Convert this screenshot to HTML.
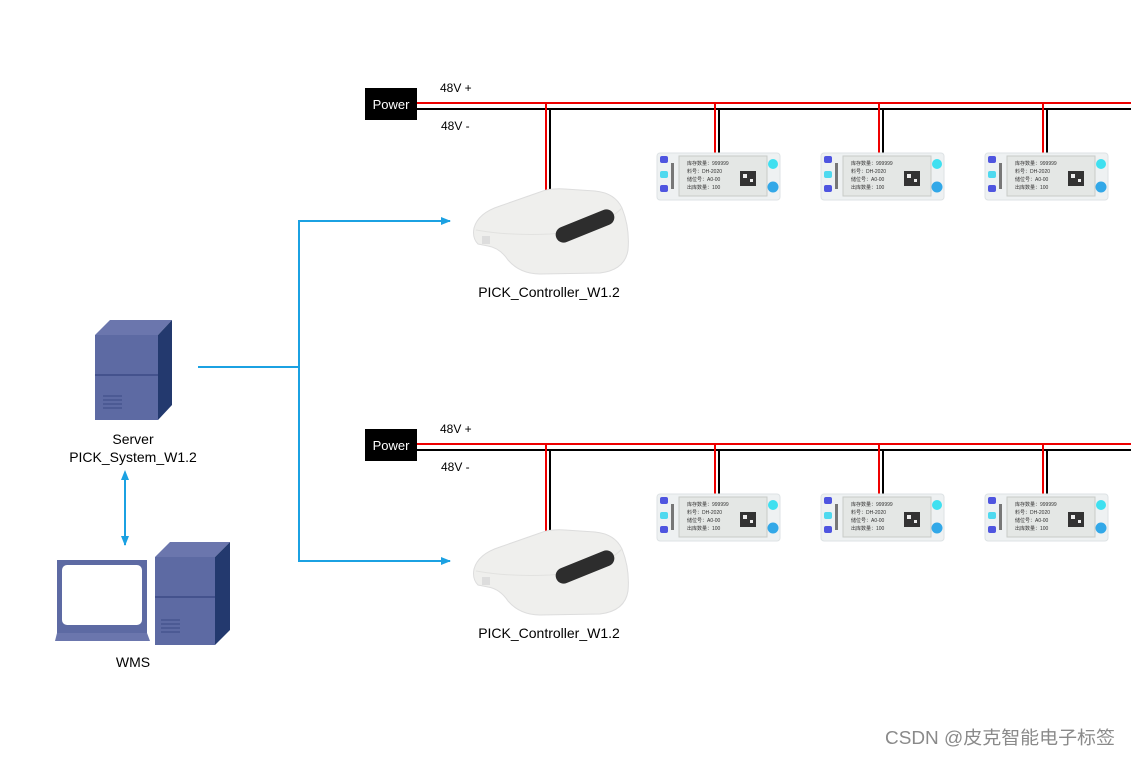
<!DOCTYPE html>
<html><head><meta charset="utf-8"><style>
body{margin:0;background:#fff;}
text{font-family:"Liberation Sans","Noto Sans CJK SC",sans-serif;}
</style></head><body>
<svg width="1131" height="756" viewBox="0 0 1131 756" xmlns="http://www.w3.org/2000/svg">
<defs>
<marker id="ah" markerWidth="10" markerHeight="10" refX="9" refY="5" orient="auto" markerUnits="userSpaceOnUse"><path d="M0,1 L10,5 L0,9 Z" fill="#1ba1e2"/></marker>
<marker id="ahs" markerWidth="10" markerHeight="10" refX="1" refY="5" orient="auto-start-reverse" markerUnits="userSpaceOnUse"><path d="M0,1 L10,5 L0,9 Z" fill="#1ba1e2"/></marker>
<g id="label">
<rect x="0" y="0" width="123" height="47" rx="3" fill="#eef1f2" stroke="#dde2e4"/>
<rect x="3" y="3" width="8" height="7" rx="2" fill="#4f55e0"/>
<rect x="3" y="18" width="8" height="7" rx="2" fill="#4fd9ef"/>
<rect x="3" y="32" width="8" height="7" rx="2" fill="#4f55e0"/>
<rect x="14" y="10" width="3" height="26" fill="#777"/>
<rect x="22" y="3" width="88" height="40" fill="#e4e7e5" stroke="#c8cbc8"/>
<text x="30" y="12" font-size="5" fill="#333">库存数量：999999</text>
<text x="30" y="20" font-size="5" fill="#333">料号：DH-2020</text>
<text x="30" y="28" font-size="5" fill="#333">储位号：A0-00</text>
<text x="30" y="36" font-size="5" fill="#333">出库数量：100</text>
<rect x="83" y="18" width="16" height="15" fill="#333"/>
<rect x="86" y="21" width="4" height="4" fill="#eee"/><rect x="93" y="26" width="3" height="3" fill="#eee"/>
<circle cx="116" cy="11" r="5" fill="#3fe0f0"/>
<circle cx="116" cy="34" r="5.5" fill="#32a8e8"/>
</g>
<g id="ctrl">
<path d="M4,40 Q8,25 30,18 L70,4 Q80,0 95,1 L125,3 Q145,5 152,20 Q160,40 158,62 Q155,82 130,85 L70,86 Q50,86 38,72 Q30,60 18,58 L8,56 Q2,50 4,40 Z" fill="#efefed" stroke="#ddd"/>
<path d="M6,42 Q40,48 80,46 Q130,42 152,20" fill="none" stroke="#e2e2e0"/>
<rect x="84" y="30" width="62" height="16" rx="8" transform="rotate(-22 115 38)" fill="#2d2d2d"/>
<rect x="12" y="48" width="8" height="8" fill="#ddd"/>
</g>
<g id="pwr">
<rect x="365" y="0" width="52" height="32" fill="#000"/>
<text x="391" y="21" font-size="13" fill="#fff" text-anchor="middle">Power</text>
<text x="440" y="4" font-size="12" fill="#000">48V +</text>
<text x="441" y="42" font-size="12" fill="#000">48V -</text>
<line x1="417" y1="15" x2="1131" y2="15" stroke="#e00" stroke-width="2"/>
<line x1="417" y1="21" x2="1131" y2="21" stroke="#000" stroke-width="2"/>
<line x1="546" y1="15" x2="546" y2="102" stroke="#e00" stroke-width="2"/>
<line x1="550" y1="21" x2="550" y2="102" stroke="#000" stroke-width="2"/>
<line x1="715" y1="15" x2="715" y2="65" stroke="#e00" stroke-width="2"/>
<line x1="719" y1="21" x2="719" y2="65" stroke="#000" stroke-width="2"/>
<line x1="879" y1="15" x2="879" y2="65" stroke="#e00" stroke-width="2"/>
<line x1="883" y1="21" x2="883" y2="65" stroke="#000" stroke-width="2"/>
<line x1="1043" y1="15" x2="1043" y2="65" stroke="#e00" stroke-width="2"/>
<line x1="1047" y1="21" x2="1047" y2="65" stroke="#000" stroke-width="2"/>
<use href="#label" x="657" y="65"/>
<use href="#label" x="821" y="65"/>
<use href="#label" x="985" y="65"/>
<use href="#ctrl" x="470" y="100"/>
<text x="549" y="209" font-size="14" fill="#000" text-anchor="middle">PICK_Controller_W1.2</text>
</g>
</defs>
<use href="#pwr" x="0" y="88"/>
<use href="#pwr" x="0" y="429"/>
<polyline points="198,367 299,367 299,221 450,221" fill="none" stroke="#1ba1e2" stroke-width="2" marker-end="url(#ah)"/>
<polyline points="299,367 299,561 450,561" fill="none" stroke="#1ba1e2" stroke-width="2" marker-end="url(#ah)"/>
<line x1="125" y1="479" x2="125" y2="545" stroke="#1ba1e2" stroke-width="2" marker-start="url(#ahs)" marker-end="url(#ah)"/>
<polygon points="95,335 110,320 172,320 158,335" fill="#6b76ad"/>
<polygon points="158,335 172,320 172,405 158,420" fill="#23396e"/>
<rect x="95" y="335" width="63" height="85" fill="#5d6aa3"/>
<line x1="95" y1="375" x2="158" y2="375" stroke="#3c4a86" stroke-width="1.5"/>
<g stroke="#3c4a86"><line x1="103" y1="396" x2="122" y2="396"/><line x1="103" y1="400" x2="122" y2="400"/><line x1="103" y1="404" x2="122" y2="404"/><line x1="103" y1="408" x2="122" y2="408"/></g>
<text x="133" y="444" font-size="14" text-anchor="middle">Server</text>
<text x="133" y="462" font-size="14" text-anchor="middle">PICK_System_W1.2</text>
<rect x="57" y="560" width="90" height="73" fill="#5d6aa3"/>
<rect x="62" y="565" width="80" height="60" rx="5" fill="#fff"/>
<polygon points="57,633 147,633 150,641 55,641" fill="#6b76ad"/>
<polygon points="155,557 170,542 230,542 215,557" fill="#6b76ad"/>
<polygon points="215,557 230,542 230,630 215,645" fill="#23396e"/>
<rect x="155" y="557" width="60" height="88" fill="#5d6aa3"/>
<line x1="155" y1="597" x2="215" y2="597" stroke="#3c4a86" stroke-width="1.5"/>
<g stroke="#3c4a86"><line x1="161" y1="620" x2="180" y2="620"/><line x1="161" y1="624" x2="180" y2="624"/><line x1="161" y1="628" x2="180" y2="628"/><line x1="161" y1="632" x2="180" y2="632"/></g>
<text x="133" y="667" font-size="14" text-anchor="middle">WMS</text>
<text x="885" y="744" font-size="18" fill="#8a8a8a" textLength="230" lengthAdjust="spacingAndGlyphs">CSDN @皮克智能电子标签</text>
</svg>
</body></html>
